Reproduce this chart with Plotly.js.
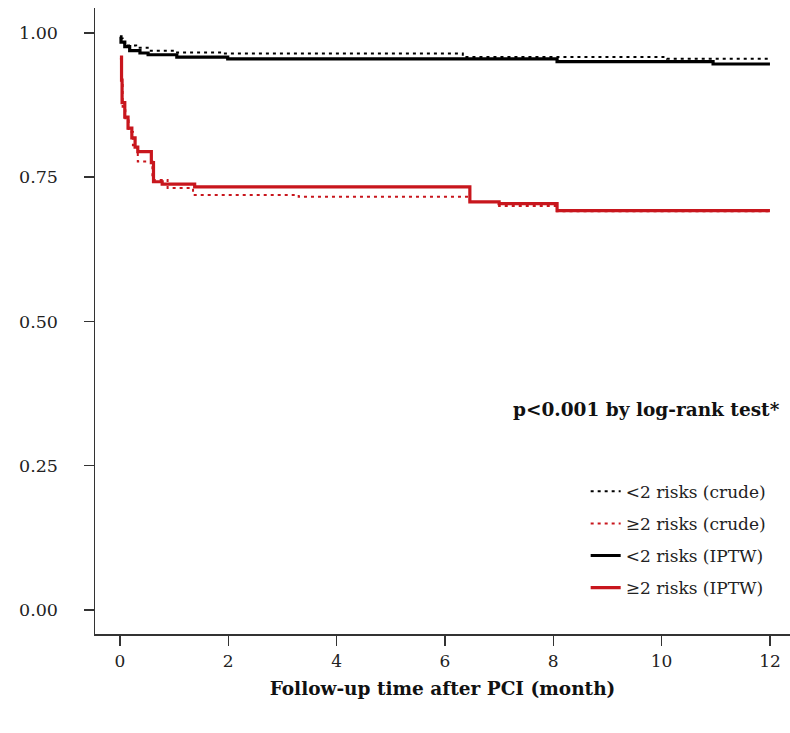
<!DOCTYPE html>
<html>
<head>
<meta charset="utf-8">
<script src="https://cdn.plot.ly/plotly-3.0.1.min.js"></script>
<style>html,body{margin:0;padding:0;background:#fff;}#chart{width:790px;height:733px;}</style>
</head>
<body>
<div id="chart"></div>
<script>
// Kaplan-Meier style step curves (time in months, survival probability)
var lowCrudeT = [0, 0.05, 0.15, 0.3, 0.55, 1.0, 1.9, 6.33, 10.1, 12];
var lowCrudeS = [0.990, 0.983, 0.978, 0.974, 0.969, 0.966, 0.964, 0.958, 0.955, 0.955];

var highCrudeT = [0, 0.03, 0.05, 0.10, 0.16, 0.24, 0.33, 0.60, 0.88, 1.35, 3.3, 6.46, 7.0, 8.07, 12];
var highCrudeS = [0.955, 0.912, 0.872, 0.848, 0.828, 0.805, 0.777, 0.745, 0.731, 0.719, 0.716, 0.707, 0.700, 0.691, 0.691];

var lowIptwT = [0, 0.02, 0.09, 0.18, 0.37, 0.52, 1.05, 1.99, 8.07, 10.95, 12];
var lowIptwS = [0.993, 0.984, 0.976, 0.969, 0.965, 0.962, 0.958, 0.955, 0.950, 0.946, 0.946];

var highIptwT = [0, 0.03, 0.04, 0.09, 0.15, 0.22, 0.28, 0.33, 0.58, 0.62, 0.78, 1.38, 6.46, 7.0, 8.07, 12];
var highIptwS = [0.958, 0.918, 0.879, 0.854, 0.835, 0.818, 0.802, 0.794, 0.775, 0.742, 0.738, 0.733, 0.707, 0.704, 0.692, 0.692];

var names = ['&lt;2 risks (crude)', '\u22652 risks (crude)', '&lt;2 risks (IPTW)', '\u22652 risks (IPTW)'];
var xTicks = [0, 2, 4, 6, 8, 10, 12];
var yTicks = [0, 0.25, 0.5, 0.75, 1.0];

var RED = '#c8161d';
var serif = 'DejaVu Serif';

var traces = [
  {x: lowCrudeT, y: lowCrudeS, name: names[0], legendgroup: 'a', line: {color: '#000', width: 2, dash: '3px,4px', shape: 'hv'}},
  {x: highCrudeT, y: highCrudeS, name: names[1], legendgroup: 'b', line: {color: RED, width: 2, dash: '3px,4px', shape: 'hv'}},
  {x: lowIptwT, y: lowIptwS, name: names[2], legendgroup: 'c', line: {color: '#000', width: 3.2, shape: 'hv'}},
  {x: highIptwT, y: highIptwS, name: names[3], legendgroup: 'd', line: {color: RED, width: 3.2, shape: 'hv'}}
].map(function (t) { t.type = 'scatter'; t.mode = 'lines'; t.hoverinfo = 'skip'; return t; });

var layout = {
  width: 790, height: 733,
  margin: {l: 95, r: 0, t: 8, b: 99},
  paper_bgcolor: '#fff', plot_bgcolor: '#fff',
  font: {family: serif, color: '#222', size: 16},
  showlegend: true,
  legend: {
    x: 0.706, xanchor: 'left', y: 0.256, yanchor: 'top',
    bgcolor: 'rgba(0,0,0,0)', font: {family: serif, size: 17, color: '#222'},
    traceorder: 'grouped', tracegroupgap: 7, itemwidth: 30
  },
  xaxis: {
    range: [-0.46, 12.37], tickvals: xTicks, ticktext: xTicks.map(String),
    showgrid: false, zeroline: false, showline: true, linecolor: '#333', linewidth: 1.5,
    ticks: 'outside', ticklen: 10, tickwidth: 1.5, tickcolor: '#333',
    tickfont: {family: serif, size: 17, color: '#222'}, ticklabelstandoff: 1,
    title: {text: '<b>Follow-up time after PCI (month)</b>', font: {family: serif, size: 18.5, color: '#111'}, standoff: 12}
  },
  yaxis: {
    range: [-0.0416, 1.043], tickvals: yTicks, ticktext: yTicks.map(function (v) { return v.toFixed(2); }),
    showgrid: false, zeroline: false, showline: true, linecolor: '#333', linewidth: 1.5,
    ticks: 'outside', ticklen: 10, tickwidth: 1.5, tickcolor: '#333',
    tickfont: {family: serif, size: 17.5, color: '#222'}, ticklabelstandoff: 22
  },
  annotations: [{
    xref: 'paper', yref: 'paper', x: 0.989, y: 0.358, xanchor: 'right', yanchor: 'middle',
    text: '<b>p&lt;0.001 by log-rank test*</b>', showarrow: false,
    font: {family: serif, size: 18.5, color: '#111'}
  }]
};

Plotly.newPlot('chart', traces, layout, {displayModeBar: false, staticPlot: true});
</script>
</body>
</html>
